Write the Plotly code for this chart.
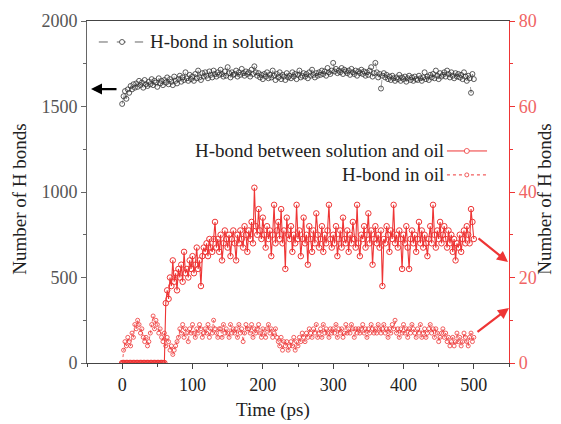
import plotly.graph_objects as go

# ---------------- data (2 ps sampling) ----------------
time_ps = list(range(0, 501, 2))

hb_solution = [
    1515, 1560, 1590, 1545, 1600, 1580, 1620, 1600, 1630, 1610,
    1635, 1615, 1650, 1625, 1640, 1610, 1655, 1630, 1620, 1645,
    1630, 1660, 1625, 1650, 1640, 1615, 1665, 1635, 1650, 1625,
    1655, 1640, 1670, 1630, 1660, 1645, 1625, 1675, 1650, 1635,
    1660, 1680, 1645, 1670, 1655, 1700, 1665, 1650, 1685, 1660,
    1675, 1650, 1690, 1665, 1710, 1670, 1655, 1695, 1675, 1700,
    1680, 1665, 1705, 1685, 1670, 1710, 1690, 1675, 1700, 1685,
    1715, 1690, 1675, 1705, 1680, 1730, 1695, 1670, 1700, 1685,
    1690, 1710, 1675, 1700, 1685, 1720, 1695, 1680, 1705, 1690,
    1700, 1675, 1715, 1690, 1735, 1700, 1680, 1695, 1670, 1685,
    1660, 1690, 1675, 1700, 1665, 1685, 1670, 1710, 1680, 1655,
    1690, 1670, 1700, 1660, 1685, 1675, 1655, 1695, 1670, 1680,
    1665, 1700, 1675, 1690, 1660, 1685, 1710, 1670, 1680, 1695,
    1675, 1690, 1665, 1700, 1680, 1715, 1685, 1670, 1695, 1680,
    1700, 1685, 1710, 1690, 1705, 1680, 1725, 1700, 1690, 1710,
    1755, 1705, 1720, 1695, 1710, 1700, 1725, 1690, 1715, 1705,
    1695, 1710, 1685, 1720, 1700, 1690, 1710, 1680, 1705, 1695,
    1715, 1690, 1705, 1680, 1700, 1685, 1710, 1730, 1675, 1695,
    1755, 1700, 1670, 1690, 1605, 1680, 1695, 1670, 1685, 1660,
    1675, 1655, 1680, 1665, 1650, 1670, 1660, 1685, 1650, 1670,
    1660, 1675, 1645, 1665, 1680, 1655, 1670, 1650, 1675, 1660,
    1655, 1680, 1665, 1650, 1670, 1700, 1660, 1675, 1655, 1685,
    1670, 1690, 1665, 1710, 1680, 1660, 1695, 1675, 1685, 1700,
    1675, 1710, 1690, 1670, 1700, 1680, 1665, 1695, 1675, 1690,
    1670, 1685, 1660, 1700, 1675, 1650, 1680, 1665, 1580, 1690,
    1660,
]

hb_solution_oil = [
    0, 0, 0, 0, 0, 0, 0, 0, 0, 0,
    0, 0, 0, 0, 0, 0, 0, 0, 0, 0,
    0, 0, 0, 0, 0, 0, 0, 0, 0, 0,
    0, 14, 17, 15, 20, 18, 24, 19, 21, 17,
    22, 20, 23, 19, 26, 21, 22, 20, 24, 22,
    25, 21, 23, 27, 22, 24, 18, 25, 27, 26,
    28, 25, 29, 27, 26, 29, 33, 27, 29, 26,
    30, 24, 28, 31, 29, 27, 30, 25, 29, 31,
    28, 24, 30, 28, 31, 29, 27, 32, 30, 26,
    31, 29, 33, 28, 41, 32, 30, 36, 31, 29,
    34, 30, 27, 32, 29, 31, 25, 30, 37, 28,
    31, 33, 29, 36, 28, 31, 22, 34, 30, 29,
    32, 26, 30, 28, 37, 29, 31, 25, 29, 34,
    28, 30, 23, 32, 29, 26, 31, 28, 35, 30,
    27, 29, 32, 26, 30, 28, 31, 37, 29, 27,
    30, 28, 32, 25, 29, 31, 27, 34, 29, 28,
    31, 26, 30, 28, 33, 29, 27, 37, 28, 25,
    30, 29, 32, 27, 30, 35, 28, 31, 23, 29,
    32, 28, 30, 27, 31, 18, 29, 28, 32, 30,
    26, 31, 29, 37, 28, 30, 27, 31, 29, 22,
    30, 28, 32, 27, 22, 29, 31, 28, 30, 26,
    29, 33, 28, 31, 27, 30, 28, 25, 29, 32,
    28, 37, 30, 27, 31, 29, 33, 28, 30, 32,
    29, 27, 31, 28, 30, 26, 29, 24, 28, 27,
    30, 26, 29, 31, 28, 32, 30, 28, 36, 33,
    29,
]

hb_oil = [
    0, 3, 5, 4, 6, 5, 4, 7, 6, 9,
    8, 10, 9, 7, 8, 6, 5, 6, 4, 5,
    7, 9, 11, 8, 10, 9, 7, 8, 6, 5,
    7, 4, 6, 5, 3, 4, 2, 3, 4, 5,
    6, 8, 7, 9, 6, 8, 7, 5, 8, 7,
    9, 7, 6, 8, 7, 9, 8, 6, 7, 8,
    7, 9, 6, 8, 7, 10, 8, 7, 6, 8,
    8, 6, 9, 7, 8, 7, 6, 9, 7, 8,
    7, 8, 6, 9, 7, 8, 5, 7, 9, 8,
    8, 7, 9, 6, 8, 7, 8, 9, 7, 6,
    8, 7, 6, 8, 9, 7, 8, 6, 7, 8,
    6, 5, 4, 6, 3, 5, 4, 5, 3, 4,
    5, 4, 6, 3, 5, 4, 6, 5, 7, 6,
    5, 7, 6, 8, 7, 6, 8, 7, 9, 6,
    7, 8, 6, 9, 7, 8, 7, 6, 8, 7,
    8, 7, 9, 6, 8, 7, 8, 6, 7, 9,
    7, 8, 7, 9, 8, 6, 8, 7, 8, 7,
    8, 9, 7, 8, 6, 8, 7, 9, 8, 7,
    8, 7, 9, 8, 7, 8, 9, 7, 8, 6,
    8, 7, 9, 8, 10, 7, 8, 6, 8, 7,
    9, 7, 8, 6, 8, 7, 9, 8, 7, 6,
    8, 7, 9, 6, 7, 8, 6, 7, 8, 9,
    7, 8, 6, 8, 7, 5, 6, 7, 8, 6,
    7, 5, 6, 4, 5, 6, 4, 5, 7, 5,
    6, 4, 5, 7, 6, 5, 4, 6, 7, 5,
    6,
]

legend_labels = ["H-bond in solution", "H-bond between solution and oil", "H-bond in oil"]
x_ticks = [0, 100, 200, 300, 400, 500]
left_ticks = [0, 500, 1000, 1500, 2000]
right_ticks = [0, 20, 40, 60, 80]
x_title = "Time (ps)"
y_title = "Number of H bonds"

# ---------------- styling ----------------
FONT = "Liberation Serif"
RED = "#ee3535"
RED_TXT = "#f06464"
GREY = "#555555"
BLACK = "#222222"

fig = go.Figure()

fig.add_trace(go.Scatter(
    x=time_ps, y=hb_solution, mode="lines+markers", name=legend_labels[0],
    line=dict(color="#666666", width=0.6, dash="dash"),
    marker=dict(symbol="circle-open", size=5, color="#333333", line=dict(width=0.8)),
    yaxis="y", showlegend=False,
))
fig.add_trace(go.Scatter(
    x=time_ps, y=hb_solution_oil, mode="lines+markers", name=legend_labels[1],
    line=dict(color=RED, width=1.1),
    marker=dict(symbol="circle-open", size=5.5, color=RED, line=dict(width=1)),
    yaxis="y2", showlegend=False,
))
fig.add_trace(go.Scatter(
    x=time_ps, y=hb_oil, mode="lines+markers", name=legend_labels[2],
    line=dict(color=RED, width=0.8, dash="dot"),
    marker=dict(symbol="circle-open", size=4, color=RED, line=dict(width=0.8)),
    yaxis="y2", showlegend=False,
))

shapes = [
    # legend glyphs
    dict(type="line", xref="paper", yref="paper", x0=0.028, x1=0.133, y0=0.9386, y1=0.9386,
         line=dict(color="#666666", width=1, dash="dash")),
    dict(type="circle", xref="paper", yref="paper", xsizemode="pixel", ysizemode="pixel",
         xanchor=0.083, yanchor=0.9386, x0=-2.5, x1=2.5, y0=-2.5, y1=2.5,
         line=dict(color="#333333", width=0.8), fillcolor="white"),
    dict(type="line", xref="paper", yref="paper", x0=0.853, x1=0.948, y0=0.620, y1=0.620,
         line=dict(color=RED, width=1)),
    dict(type="circle", xref="paper", yref="paper", xsizemode="pixel", ysizemode="pixel",
         xanchor=0.900, yanchor=0.620, x0=-2.5, x1=2.5, y0=-2.5, y1=2.5,
         line=dict(color=RED, width=0.8), fillcolor="white"),
    dict(type="line", xref="paper", yref="paper", x0=0.853, x1=0.948, y0=0.550, y1=0.550,
         line=dict(color=RED, width=1, dash="dot")),
    dict(type="circle", xref="paper", yref="paper", xsizemode="pixel", ysizemode="pixel",
         xanchor=0.900, yanchor=0.550, x0=-2, x1=2, y0=-2, y1=2,
         line=dict(color=RED, width=0.8), fillcolor="white"),
]

annotations = [
    dict(xref="paper", yref="paper", x=0.1445, y=0.9386, xanchor="left", yanchor="middle",
         text=legend_labels[0], showarrow=False, font=dict(family=FONT, size=19, color=BLACK)),
    dict(xref="paper", yref="paper", x=0.851, y=0.620, xanchor="right", yanchor="middle",
         text=legend_labels[1], showarrow=False, font=dict(family=FONT, size=19, color=BLACK)),
    dict(xref="paper", yref="paper", x=0.851, y=0.550, xanchor="right", yanchor="middle",
         text=legend_labels[2], showarrow=False, font=dict(family=FONT, size=19, color=BLACK)),
    # axis titles
    dict(xref="paper", yref="paper", x=0.441, y=-0.137, xanchor="center", yanchor="middle",
         text=x_title, showarrow=False, font=dict(family=FONT, size=19, color=BLACK)),
    dict(xref="paper", yref="paper", x=-0.159, y=0.480, xanchor="center", yanchor="middle",
         text=y_title, textangle=-90, showarrow=False, font=dict(family=FONT, size=19, color=BLACK)),
    dict(xref="paper", yref="paper", x=1.085, y=0.480, xanchor="center", yanchor="middle",
         text=y_title, textangle=-90, showarrow=False, font=dict(family=FONT, size=19, color=BLACK)),
    # arrows
    dict(xref="paper", yref="paper", x=0.0095, y=0.801, ax=27, ay=0, text="",
         showarrow=True, arrowhead=2, arrowsize=1, arrowwidth=2.2, arrowcolor="black"),
    dict(xref="paper", yref="paper", x=0.9976, y=0.295, ax=-31, ay=-25, text="",
         showarrow=True, arrowhead=2, arrowsize=1, arrowwidth=2.2, arrowcolor=RED),
    dict(xref="paper", yref="paper", x=1.0, y=0.161, ax=-33, ay=25, text="",
         showarrow=True, arrowhead=2, arrowsize=1, arrowwidth=2.2, arrowcolor=RED),
]

fig.update_layout(
    width=561, height=424,
    margin=dict(l=87, r=52, t=21, b=61, autoexpand=False),
    paper_bgcolor="white", plot_bgcolor="white",
    font=dict(family=FONT, size=18, color=GREY),
    showlegend=False,
    shapes=shapes, annotations=annotations,
    xaxis=dict(
        range=[-50, 550], tickvals=x_ticks, ticks="outside", ticklen=5, tickwidth=1,
        tickcolor="#444444", showline=True, linecolor="#444444", linewidth=1, mirror=True,
        showgrid=False, zeroline=False, automargin=False,
        tickfont=dict(family=FONT, size=18, color=BLACK),
        minor=dict(dtick=50, tick0=-50, ticks="outside", ticklen=3, tickcolor="#444444", showgrid=False),
    ),
    yaxis=dict(
        range=[0, 2000], tickvals=left_ticks, ticks="outside", ticklen=5, tickwidth=1,
        tickcolor="#666666", showline=True, linecolor="#666666", linewidth=1,
        showgrid=False, zeroline=False, automargin=False,
        tickfont=dict(family=FONT, size=18, color=GREY),
        minor=dict(dtick=250, ticks="outside", ticklen=3, tickcolor="#666666", showgrid=False),
    ),
    yaxis2=dict(
        range=[0, 80], tickvals=right_ticks, overlaying="y", side="right", anchor="x",
        ticks="outside", ticklen=5, tickwidth=1, tickcolor=RED,
        showline=True, linecolor=RED, linewidth=1.2,
        showgrid=False, zeroline=False, automargin=False,
        tickfont=dict(family=FONT, size=18, color=RED_TXT),
        minor=dict(dtick=10, ticks="outside", ticklen=3, tickcolor=RED, showgrid=False),
    ),
)

assert len(time_ps) == len(hb_solution) == len(hb_solution_oil) == len(hb_oil)

# remove the browser's default 8px body margin so the figure fills the window exactly
fig.write_html(
    "out.html",
    config={"displayModeBar": False},
    post_script="document.body.style.margin='0';document.body.style.overflow='hidden';",
)
